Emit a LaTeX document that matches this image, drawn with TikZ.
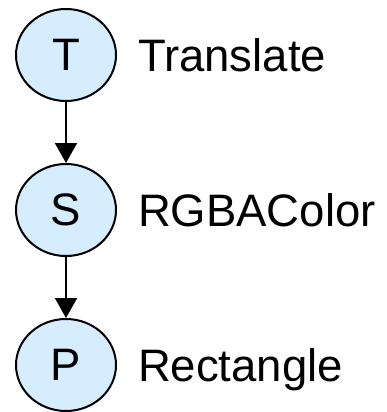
\documentclass[tikz,border=0pt]{standalone}
\usepackage{fontspec}
\setmainfont{Liberation Sans}
\usetikzlibrary{shapes.geometric,positioning,arrows.meta}
\definecolor{nodeblue}{RGB}{214,236,255}

\begin{document}
\begin{tikzpicture}[>={Triangle[length=20pt,width=22pt]},node distance=155pt,
                    line width=2pt,x=1pt,y=1pt,
                    main node/.style={ellipse,draw,fill=nodeblue,inner sep=0pt,
                      minimum width=100pt,minimum height=92pt,font=\fontsize{45.5}{50}\selectfont},
                    class name/.style={inner sep=0pt,text depth=0pt,font=\fontsize{45.5}{50}\selectfont}]
\useasboundingbox (0,0) rectangle (387,-412);

\node[main node] (T) at (66,-55) {T};
\node[main node] (S) [below of=T] {S};
\node[main node] (P) [below of=S] {P};

\node[class name] (Tname) [right=20pt of T] {Translate};
\node[class name] (Sname) [right=20pt of S] {RGBAColor};
\node[class name] (Pname) [right=20pt of P] {Rectangle};

\path[->]
  (T) edge (S)
  (S) edge (P);

\end{tikzpicture}
\end{document}
